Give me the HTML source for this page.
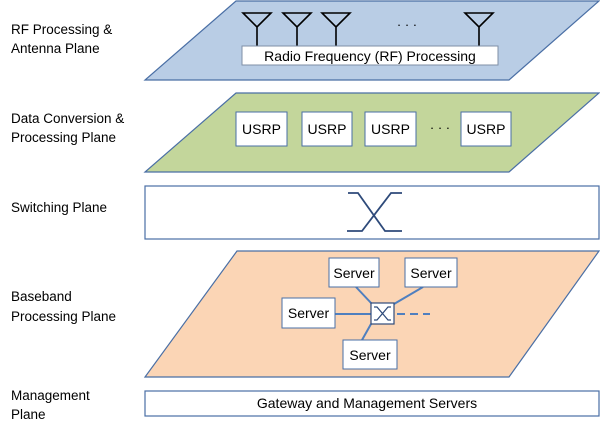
<!DOCTYPE html>
<html><head><style>
body{margin:0;background:#fff;}
svg{display:block;}
text{font-family:"Liberation Sans",sans-serif;fill:#000;}
</style></head><body>
<svg width="600" height="434" viewBox="0 0 600 434" xmlns="http://www.w3.org/2000/svg">
<g font-size="13.5">
<text x="11" y="34">RF Processing &amp;</text>
<text x="11" y="53">Antenna Plane</text>
<text x="11" y="123">Data Conversion &amp;</text>
<text x="11" y="142">Processing Plane</text>
<text x="11" y="212">Switching Plane</text>
<text x="11" y="301">Baseband</text>
<text x="11" y="321">Processing Plane</text>
<text x="11" y="400">Management</text>
<text x="11" y="419">Plane</text>
</g>
<polygon points="236,1 599,1 509,80 145,80" fill="#b9cde5" stroke="#4a6fa5" stroke-width="1.2"/>
<g stroke="#000" stroke-width="1.6" fill="none" stroke-linejoin="miter">
<path d="M243,13 H271 L257,27 Z M257,27 V46"/>
<path d="M283,13 H311 L297,27 Z M297,27 V46"/>
<path d="M322,13 H350 L336,27 Z M336,27 V46"/>
<path d="M465,13 H493 L479,27 Z M479,27 V46"/>
</g>
<text x="407" y="29" font-size="13" text-anchor="middle">· · ·</text>
<rect x="242" y="46" width="256" height="19" fill="#fff" stroke="#7f8fa6"/>
<text x="370" y="61" font-size="14" text-anchor="middle">Radio Frequency (RF) Processing</text>
<polygon points="236,93 599,93 509,172 145,172" fill="#c3d69b" stroke="#4a6fa5" stroke-width="1.2"/>
<g fill="#fff" stroke="#4a6fa5">
<rect x="236" y="112" width="51" height="34"/>
<rect x="302" y="112" width="50" height="34"/>
<rect x="365" y="112" width="51" height="34"/>
<rect x="461" y="112" width="50" height="34"/>
</g>
<g font-size="14" text-anchor="middle">
<text x="261.5" y="134">USRP</text>
<text x="327" y="134">USRP</text>
<text x="390.5" y="134">USRP</text>
<text x="486" y="134">USRP</text>
</g>
<text x="440" y="132" font-size="13" text-anchor="middle">· · ·</text>
<rect x="145" y="186" width="454" height="53" fill="#fff" stroke="#4a6fa5" stroke-width="1.2"/>
<path d="M348,193 H358 L385,231 H402 M402,193 H391 L362,231 H347" fill="none" stroke="#2e4a7a" stroke-width="1.8"/>
<polygon points="237,251 599,251 509,377 145,377" fill="#fbd5b5" stroke="#4a6fa5" stroke-width="1.2"/>
<g stroke="#4f7fbf" stroke-width="2" fill="none">
<line x1="335" y1="314" x2="371" y2="314"/>
<line x1="356" y1="287" x2="372" y2="304"/>
<line x1="423" y1="287" x2="394" y2="304"/>
<line x1="371" y1="324" x2="362" y2="340"/>
<line x1="397" y1="314" x2="430" y2="314" stroke-dasharray="8,5"/>
</g>
<rect x="371" y="303" width="23" height="21" fill="#fff" stroke="#2e4a7a" stroke-width="1.2"/>
<path d="M374,307 H377 L388,320 H391 M391,307 H388 L377,320 H374" fill="none" stroke="#2e4a7a" stroke-width="1.2"/>
<g fill="#fff" stroke="#4a6fa5">
<rect x="329" y="258" width="50" height="29"/>
<rect x="405" y="258" width="52" height="29"/>
<rect x="282" y="298" width="53" height="30"/>
<rect x="343" y="340" width="54" height="29"/>
</g>
<g font-size="14" text-anchor="middle">
<text x="354" y="278">Server</text>
<text x="431" y="278">Server</text>
<text x="308.5" y="318">Server</text>
<text x="370" y="360">Server</text>
</g>
<rect x="145" y="391" width="454" height="25" fill="#fff" stroke="#4a6fa5" stroke-width="1.2"/>
<text x="367" y="408" font-size="14" text-anchor="middle">Gateway and Management Servers</text>
</svg>
</body></html>
